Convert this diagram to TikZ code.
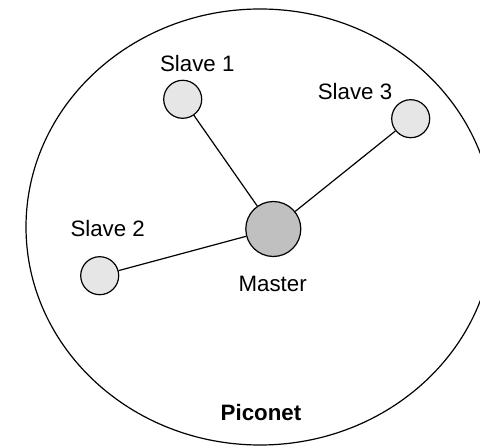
\documentclass[tikz,border=0pt]{standalone}
\usepackage{fontspec}
\setmainfont{Liberation Sans}
\begin{document}
\begin{tikzpicture}[x=1pt,y=-1pt,
  dev/.style={circle,draw=black,line width=1.2pt,fill=slavegray,minimum size=38pt,inner sep=0pt},
  master/.style={circle,draw=black,line width=1.2pt,fill=mastergray,minimum size=55pt,inner sep=0pt},
  lbl/.style={inner sep=0pt,font=\fontsize{22.3}{26}\selectfont},
  link/.style={draw=black,line width=1.2pt}]
\definecolor{slavegray}{HTML}{E6E6E6}
\definecolor{mastergray}{HTML}{C0C0C0}
\useasboundingbox (0,0) rectangle (480,446);
\clip (0,0) rectangle (480,446);
\draw[line width=1.2pt] (260,227) ellipse [x radius=234, y radius=218];
\node[master] (m) at (273.3,229) {};
\node[dev] (s1) at (182.7,99.3) {};
\node[dev] (s3) at (410.7,118.7) {};
\node[dev] (s2) at (99.7,275.7) {};
\draw[link] (m) -- (s1);
\draw[link] (m) -- (s3);
\draw[link] (m) -- (s2);
\node[lbl] (l1) at (197.3,63.3) {Slave 1};
\node[lbl] (l3) at (355,91.7) {Slave 3};
\node[lbl] (l2) at (107.7,228.3) {Slave 2};
\node[lbl] (lm) at (272.7,284) {Master};
\node[lbl,font=\fontsize{22.3}{26}\selectfont\bfseries] (pn) at (261,412.3) {Piconet};
\end{tikzpicture}
\end{document}
